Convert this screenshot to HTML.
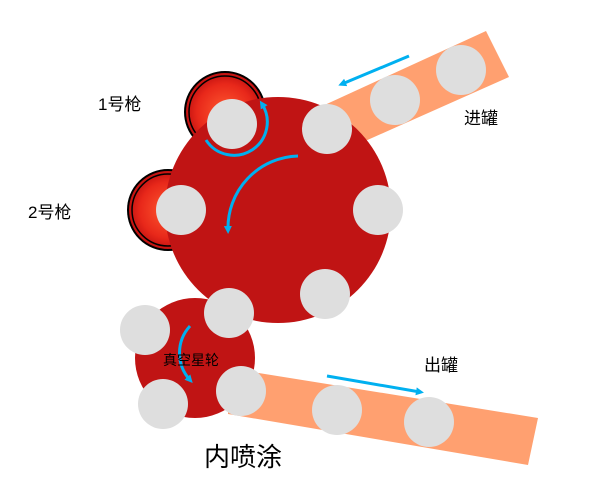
<!DOCTYPE html>
<html><head><meta charset="utf-8"><style>body{margin:0;background:#fff}svg{display:block}text{font-family:"Liberation Sans","Noto Sans CJK SC",sans-serif}</style></head>
<body>
<svg width="599" height="490" viewBox="0 0 599 490">
<defs>
<radialGradient id="g" cx="0.5" cy="0.5" r="0.5"><stop offset="0" stop-color="#ff5a30"/><stop offset="0.7" stop-color="#e8281a"/><stop offset="1" stop-color="#c01010"/></radialGradient>
<marker id="ah" markerWidth="8" markerHeight="8" refX="4" refY="4" orient="auto" markerUnits="userSpaceOnUse"><path d="M0,0 L8,4 L0,8 Z" fill="#00b0f0"/></marker>
</defs>
<polygon points="318,108 486,31 509,77 345,150" fill="#ffa070"/>
<polygon points="228,368 538,418 528,465 228,414" fill="#ffa070"/>
<g><circle cx="225" cy="112" r="40" fill="url(#g)" stroke="#000" stroke-width="2"/><circle cx="225" cy="112" r="36" fill="none" stroke="#000" stroke-width="1.5"/></g>
<g><circle cx="168" cy="210" r="40" fill="url(#g)" stroke="#000" stroke-width="2"/><circle cx="168" cy="210" r="36" fill="none" stroke="#000" stroke-width="1.5"/></g>
<circle cx="278" cy="210" r="113" fill="#c01414"/>
<circle cx="195" cy="358" r="60" fill="#c01414"/>
<g fill="#dedede">
<circle cx="232" cy="124" r="25"/><circle cx="327" cy="129" r="25"/><circle cx="181" cy="210" r="25"/><circle cx="378" cy="210" r="25"/><circle cx="325" cy="294" r="25"/><circle cx="229" cy="313" r="25"/><circle cx="145" cy="330" r="25"/><circle cx="163" cy="404" r="25"/><circle cx="241" cy="391" r="25"/><circle cx="337" cy="410" r="25"/><circle cx="429" cy="422" r="25"/><circle cx="395" cy="100" r="25"/><circle cx="461" cy="70" r="25"/>
</g>
<g fill="none" stroke="#00b0f0" stroke-width="3" marker-end="url(#ah)">
<path d="M206,140 A28,28 0 0 0 262,104"/>
<path d="M298,156 A72,72 0 0 0 228,230"/>
<path d="M190,326 A40,40 0 0 0 190,380"/>
<path d="M409,56 L342,84"/>
<path d="M327,376 L420,392"/>
</g>
<text x="98" y="110" font-size="17">1号枪</text>
<text x="28" y="218" font-size="17">2号枪</text>
<text x="464" y="124" font-size="17">进罐</text>
<text x="424" y="371" font-size="17">出罐</text>
<text x="163" y="365" font-size="14">真空星轮</text>
<text x="204" y="466" font-size="26">内喷涂</text>
</svg>
</body></html>
